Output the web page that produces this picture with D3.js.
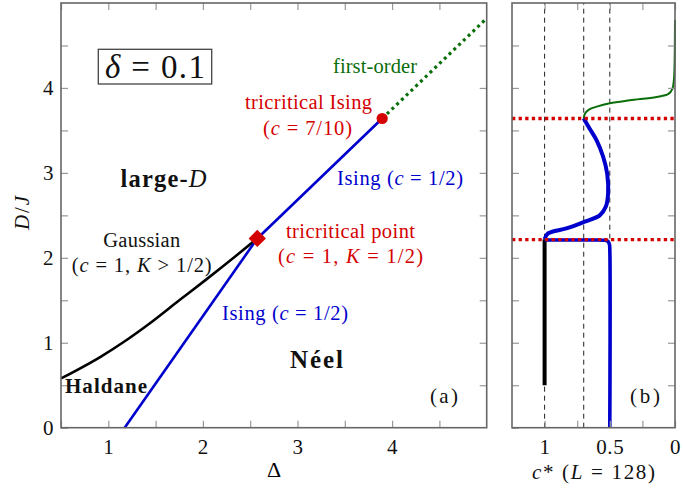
<!DOCTYPE html>
<html><head><meta charset="utf-8">
<script src="https://cdn.jsdelivr.net/npm/d3@7"></script>
<style>
body{margin:0;background:#fff;}
svg{display:block;font-family:"Liberation Serif","DejaVu Serif",serif;}
</style></head>
<body><svg id="c" width="683" height="490"></svg>
<script>
// ---------- data ----------
// Left panel (a): phase boundaries in (Delta, D/J)
const gaussDelta = [0.5, 0.918, 1.19, 1.44, 1.75, 2.03, 2.38, 2.575];
const gaussD     = [0.58, 0.835, 1.03, 1.23, 1.50, 1.74, 2.05, 2.228];
const isingLowDelta = [1.173, 2.575];
const isingLowD     = [0.0, 2.228];
const isingHighDelta = [2.575, 3.895];
const isingHighD     = [2.228, 3.64];
const firstOrderDelta = [3.895, 5.0];
const firstOrderD     = [3.64, 4.82];
const tricriticalPoint = [2.575, 2.228];
const tricriticalIsing = [3.895, 3.64];
const xTicksA = [0.5, 1, 1.5, 2, 2.5, 3, 3.5, 4, 4.5];
const yTicks  = [0.5, 1, 1.5, 2, 2.5, 3, 3.5, 4, 4.5];

// Right panel (b): central charge c* (L=128) vs D/J
const blackC = [1.0, 1.0];
const blackD = [0.5, 2.22];
const blueLowC = [0.5, 0.5, 0.503, 0.515, 0.545, 0.7, 1.0];
const blueLowD = [0.0, 2.10, 2.16, 2.195, 2.207, 2.209, 2.21];
const blueHighC = [1.0, 0.974, 0.833, 0.702, 0.577, 0.531, 0.513, 0.52, 0.551, 0.602, 0.654, 0.70];
const blueHighD = [2.22, 2.287, 2.346, 2.42, 2.50, 2.60, 2.757, 2.99, 3.19, 3.385, 3.52, 3.64];
const greenC = [0.70, 0.69, 0.66, 0.60, 0.5, 0.346, 0.141, 0.05, 0.02, 0.008, 0.003, 0.0];
const greenD = [3.64, 3.70, 3.745, 3.78, 3.82, 3.855, 3.894, 3.93, 3.99, 4.1, 4.3, 4.8];
const refC = [1.0, 0.7, 0.5];
const transitionsD = [3.64, 2.215];
const xTicksB = [0, 0.25, 0.5, 0.75, 1.0];
const xLabelsB = {0: "0", 0.5: "0.5", 1: "1"};

// ---------- drawing ----------
const svg = d3.select("#c");
const RED = "#d40000", BLUE = "#0000cc", GREEN = "#0a6e0a", FRAME = "#666";
const yS = d3.scaleLinear([0, 5], [427.7, 3]);
const xA = d3.scaleLinear([0.5, 5], [61, 486.7]);
const xB = d3.scaleLinear([1.25, 0], [512, 675]);
const zip = (a, b) => a.map((v, i) => [v, b[i]]);

function frame(g, xs, x0, x1) {
  const tick = 7;
  const bottom = d3.axisBottom(xs).tickValues(xs === xA ? xTicksA : xTicksB).tickSize(-tick).tickSizeOuter(0).tickPadding(11)
    .tickFormat(d => xs === xA ? (Number.isInteger(d) ? d : "") : (xLabelsB[d] ?? ""));
  const top = d3.axisTop(xs).tickValues(xs === xA ? xTicksA : xTicksB).tickSize(-tick).tickSizeOuter(0).tickFormat("");
  const left = d3.axisLeft(yS).tickValues(yTicks.concat([0])).tickSize(-tick).tickSizeOuter(0).tickPadding(7)
    .tickFormat(d => xs === xA && Number.isInteger(d) ? d : "");
  const right = d3.axisRight(yS).tickValues(yTicks).tickSize(-tick).tickSizeOuter(0).tickFormat("");
  const gb = g.append("g").attr("transform", `translate(0,${yS(0)})`).call(bottom);
  const gt = g.append("g").attr("transform", `translate(0,${yS(5)})`).call(top);
  const gl = g.append("g").attr("transform", `translate(${x0},0)`).call(left);
  const gr = g.append("g").attr("transform", `translate(${x1},0)`).call(right);
  [gb, gt, gl, gr].forEach(a => {
    a.select(".domain").remove();
    a.selectAll("line").attr("stroke", "#999").attr("stroke-width", 1.2);
    a.selectAll("text").attr("font-size", 21).attr("fill", "#111").attr("font-family", "Liberation Serif, serif")
      .attr("letter-spacing", 0.6);
  });
  g.append("rect").attr("x", x0).attr("y", yS(5)).attr("width", x1 - x0).attr("height", yS(0) - yS(5))
    .attr("fill", "none").attr("stroke", FRAME).attr("stroke-width", 1.6);
}

// ----- panel (a) -----
const ga = svg.append("g");
const lineA = d3.line().x(d => xA(d[0])).y(d => yS(d[1]));
ga.append("path").attr("d", d3.line().x(d => xA(d[0])).y(d => yS(d[1])).curve(d3.curveMonotoneX)(zip(gaussDelta, gaussD)))
  .attr("fill", "none").attr("stroke", "#000").attr("stroke-width", 2.6);
ga.append("path").attr("d", lineA(zip(isingLowDelta, isingLowD)))
  .attr("fill", "none").attr("stroke", BLUE).attr("stroke-width", 2.6);
ga.append("path").attr("d", lineA(zip(isingHighDelta, isingHighD)))
  .attr("fill", "none").attr("stroke", BLUE).attr("stroke-width", 2.6);
ga.append("path").attr("d", lineA(zip(firstOrderDelta, firstOrderD)))
  .attr("fill", "none").attr("stroke", GREEN).attr("stroke-width", 3.2).attr("stroke-dasharray", "3,3.6");
ga.append("path").attr("d", d3.symbol(d3.symbolSquare, 150)())
  .attr("transform", `translate(${xA(tricriticalPoint[0])},${yS(tricriticalPoint[1])}) rotate(45)`)
  .attr("fill", RED);
ga.append("circle").attr("cx", xA(tricriticalIsing[0])).attr("cy", yS(tricriticalIsing[1])).attr("r", 5.6).attr("fill", RED);
frame(ga, xA, xA(0.5), xA(5));

// text helpers
function mtext(g, x, y, parts, opts = {}) {
  const t = g.append("text").attr("x", x).attr("y", y).attr("text-anchor", opts.anchor || "middle")
    .attr("font-size", opts.size || 19).attr("fill", opts.fill || "#111");
  if (opts.weight) t.attr("font-weight", opts.weight);
  if (opts.w) t.attr("textLength", opts.w).attr("lengthAdjust", "spacing");
  parts.forEach(p => {
    const s = t.append("tspan").text(p.t !== undefined ? p.t : p);
    if (p.i) s.attr("font-style", "italic");
    if (p.w) s.attr("font-weight", p.w);
  });
  return t;
}
const I = t => ({t, i: true});

ga.append("rect").attr("x", 98.3).attr("y", 49.3).attr("width", 113.4).attr("height", 34.7)
  .attr("fill", "#fff").attr("stroke", "#444").attr("stroke-width", 1.3);
mtext(ga, 155, 78, [I("δ"), " = 0.1"], {size: 33, w: 100});
mtext(ga, 163.5, 187, ["large-", {t: "D", i: true, w: "normal"}], {size: 24.5, weight: "bold", w: 86});
mtext(ga, 141.7, 247, ["Gaussian"], {size: 20.5, w: 77});
mtext(ga, 141.7, 271.5, ["(", I("c"), " = 1,  ", I("K"), " > 1/2)"], {size: 20.5, w: 140});
mtext(ga, 106, 393, ["Haldane"], {size: 21, weight: "bold", w: 82});
mtext(ga, 285, 320, ["Ising (", I("c"), " = 1/2)"], {size: 20.5, fill: BLUE, w: 126});
mtext(ga, 316.5, 368, ["Néel"], {size: 25, weight: "bold", w: 53});
mtext(ga, 444, 403, ["(a)"], {size: 21, w: 28});
mtext(ga, 350.5, 238, ["tricritical point"], {size: 20.5, fill: RED, w: 129});
mtext(ga, 350.5, 263, ["(", I("c"), " = 1,  ", I("K"), " = 1/2)"], {size: 20.5, fill: RED, w: 145});
mtext(ga, 400, 185, ["Ising (", I("c"), " = 1/2)"], {size: 20.5, fill: BLUE, w: 126});
mtext(ga, 308.5, 109, ["tricritical Ising"], {size: 20.5, fill: RED, w: 127});
mtext(ga, 307.5, 135, ["(", I("c"), " = 7/10)"], {size: 20.5, fill: RED, w: 89});
mtext(ga, 375, 73, ["first-order"], {size: 20.5, fill: GREEN, w: 84});
svg.append("text").attr("x", 274).attr("y", 477).attr("text-anchor", "middle").attr("font-size", 22).text("Δ");
mtext(svg, 0, 0, [I("D"), " / ", I("J")], {size: 21, w: 34}).attr("transform", "translate(29,213) rotate(-90)");

// ----- panel (b) -----
const gb = svg.append("g");
gb.selectAll(".ref").data(refC).join("line")
  .attr("x1", d => xB(d)).attr("x2", d => xB(d)).attr("y1", yS(0)).attr("y2", yS(5))
  .attr("stroke", "#222").attr("stroke-width", 1).attr("stroke-dasharray", "5,4");
const lineB = d3.line().x(d => xB(d[0])).y(d => yS(d[1])).curve(d3.curveCatmullRom.alpha(0.5));
gb.append("path").attr("d", lineB(zip(greenC, greenD))).attr("fill", "none").attr("stroke", GREEN).attr("stroke-width", 2);
gb.append("path").attr("d", lineB(zip(blackC, blackD))).attr("fill", "none").attr("stroke", "#000").attr("stroke-width", 4);
gb.append("path").attr("d", lineB(zip(blueLowC, blueLowD))).attr("fill", "none").attr("stroke", BLUE).attr("stroke-width", 3.6);
gb.append("path").attr("d", lineB(zip(blueHighC, blueHighD))).attr("fill", "none").attr("stroke", BLUE).attr("stroke-width", 4);
gb.selectAll(".tr").data(transitionsD).join("line")
  .attr("x1", xB(1.25)).attr("x2", xB(0)).attr("y1", d => yS(d)).attr("y2", d => yS(d))
  .attr("stroke", RED).attr("stroke-width", 3.3).attr("stroke-dasharray", "3.3,3.3");
frame(gb, xB, xB(1.25), xB(0));
mtext(gb, 645, 403, ["(b)"], {size: 21, w: 30});
mtext(svg, 593.5, 479, [I("c"), {t: "*"}, " (", I("L"), " = 128)"], {size: 21, w: 123});
</script></body></html>
